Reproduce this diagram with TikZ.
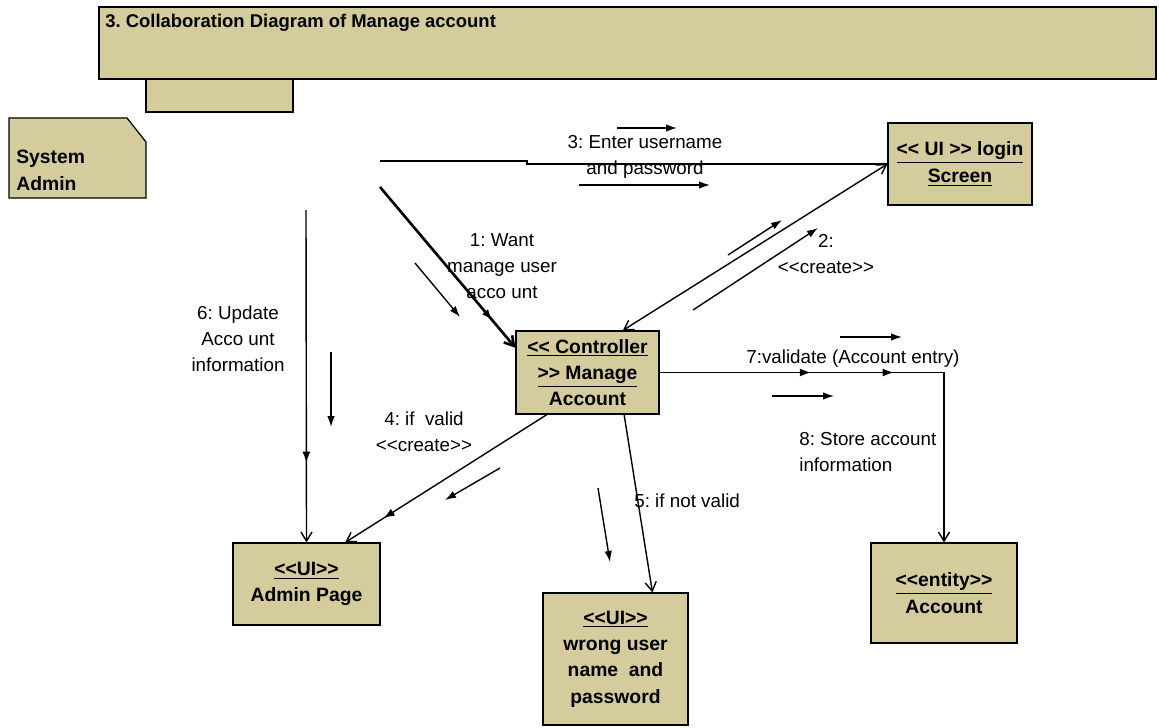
\documentclass[tikz,border=0pt]{standalone}
\usepackage{fontspec}
\newfontfamily\diafont{Liberation Sans}
\usetikzlibrary{arrows.meta,decorations.markings}
\definecolor{khaki}{RGB}{212,204,156}
\frenchspacing

\begin{document}
\begin{tikzpicture}[
  x=0.02cm, y=-0.02cm,
  box/.style={rectangle, draw, line width=0.7pt, fill=khaki, align=center, inner sep=0pt, font=\diafont\bfseries\fontsize{11}{15}\selectfont},
  msglabel/.style={align=center, inner sep=0pt, font=\diafont\fontsize{10.7}{14.7}\selectfont},
  conn/.style={line width=0.8pt, >={Straight Barb[length=1.8mm,width=2.2mm]}, ->},
  msg/.style={line width=0.8pt, -{Latex[length=2.2mm,width=1.5mm]}},
  midarrow/.style={postaction={decorate}, decoration={markings, mark=at position #1 with {\arrow{Latex[length=2.2mm,width=1.6mm]}}}}
]
  \useasboundingbox (0,0) rectangle (1159,727);

  % title banner
  \draw[fill=khaki, line width=0.7pt] (99,7) rectangle (1156,79);
  \draw[fill=khaki, line width=0.7pt] (146,79) rectangle (293,112);
  \node[anchor=base west, inner sep=0pt, font=\diafont\bfseries\fontsize{10.5}{13}\selectfont] (title) at (105,27) {3. Collaboration Diagram of Manage account};

  % actor note
  \draw[fill=khaki, line width=0.7pt] (9,118) -- (127,118) -- (146,142) -- (146,198) -- (9,198) -- cycle;
  \node[anchor=west, align=left, inner sep=0pt, font=\diafont\bfseries\fontsize{11}{15.4}\selectfont] (sysadmin) at (16,170) {System\\Admin};

  % objects
  \node[box, minimum width=2.88cm, minimum height=1.64cm] (login) at (960,164) {\underline{<< UI >> login}\\\underline{Screen}};
  \node[box, minimum width=2.86cm, minimum height=1.66cm] (ctrl) at (587.5,372.5) {\underline{<< Controller}\\\underline{>> Manage}\\Account};
  \node[box, minimum width=2.94cm, minimum height=1.64cm] (admin) at (306.5,584) {\underline{<<UI>>}\\Admin Page};
  \node[box, minimum width=2.9cm, minimum height=2.64cm] (wrong) at (615.5,659) {\underline{<<UI>>}\\wrong user\\name~ and\\password};
  \node[box, minimum width=2.92cm, minimum height=2cm] (account) at (944,593) {\underline{<<entity>>}\\Account};

  % free ends of the links from the actor
  \coordinate (s3) at (380,161);
  \coordinate (s1) at (380,187);
  \coordinate (s6) at (306,210);

  % links
  \draw[line width=0.8pt] (s3) -- (527,161) |- (login.west);
  \draw[conn, line width=1.5pt, midarrow=0.83] (s1) -- (ctrl.161);
  \draw[conn, <->] (ctrl.50) -- (login.west);
  \draw[conn, midarrow=0.81] (ctrl.226.4) -- (admin.47);
  \draw[conn] (ctrl.-49.5) -- (wrong.61);
  \draw[conn, midarrow=0.76] (s6) -- (admin.north);
  \draw[conn, postaction={decorate}, decoration={markings,
      mark=at position 0.333 with {\arrow{Latex[length=2.2mm,width=1.6mm]}},
      mark=at position 0.515 with {\arrow{Latex[length=2.2mm,width=1.6mm]}}}]
    (ctrl.east) -| (account.north);

  % messages
  \draw[msg] (617,128) -- (677,128);
  \draw[msg] (579,185) -- (710,185);
  \draw[msg] (415,263) -- (460,317);
  \draw[msg] (728,255) -- (782,220);
  \draw[msg] (693,310) -- (818,228);
  \draw[msg] (500,468) -- (445,500);
  \draw[msg] (598,488) -- (610,562);
  \draw[msg] (331,352) -- (331,427);
  \draw[msg] (840,337) -- (902,337);
  \draw[msg] (772,396) -- (834,396);

  % message labels
  \node[msglabel] (lab3) at (645,157) {3: Enter username\\and password};
  \node[msglabel] (lab1) at (502,266) {1: Want\\manage user\\acco unt};
  \node[msglabel] (lab2) at (826,254) {2:\\<<create>>};
  \node[msglabel] (lab4) at (424,432) {4: if~ valid\\<<create>>};
  \node[msglabel, anchor=base west] (lab5) at (634,507) {5: if not valid};
  \node[msglabel] (lab6) at (238,339) {6: Update\\Acco unt\\information};
  \node[msglabel, anchor=base west] (lab7) at (746,363) {7:validate (Account entry)};
  \node[msglabel, anchor=west, align=left] (lab8) at (799,452) {8: Store account\\information};
\end{tikzpicture}
\end{document}
